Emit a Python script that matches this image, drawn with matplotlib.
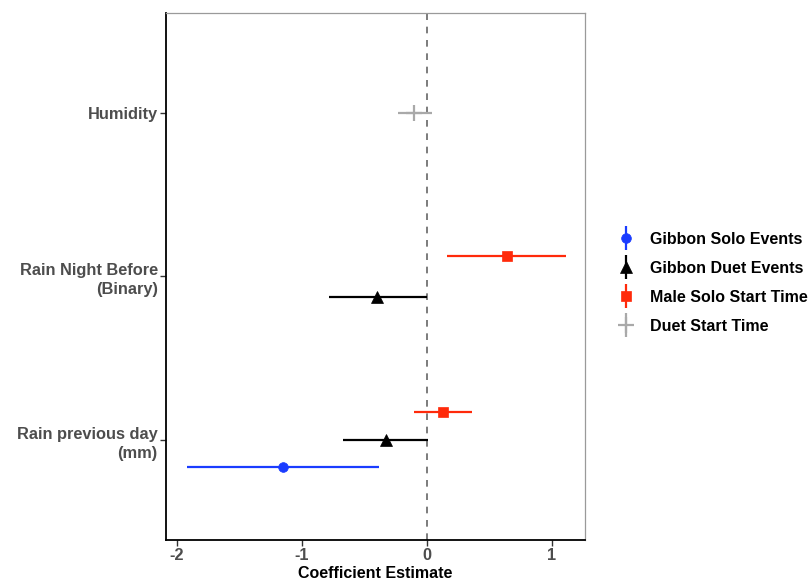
import matplotlib
matplotlib.use("Agg")
import matplotlib.pyplot as plt
from matplotlib.lines import Line2D
from matplotlib.legend_handler import HandlerTuple

plt.rcParams['font.family'] = ['Liberation Sans', 'DejaVu Sans']
plt.rcParams['font.weight'] = 'bold'

categories = ["Rain previous day\n(mm)", "Rain Night Before\n(Binary)", "Humidity"]
series = ["Gibbon Solo Events", "Gibbon Duet Events", "Male Solo Start Time", "Duet Start Time"]

# (category index, estimate, lower, upper)
solo_events = [(0, -1.15, -1.92, -0.38)]
duet_events = [(0, -0.33, -0.67, 0.01), (1, -0.40, -0.78, 0.0)]
male_solo_start = [(0, 0.13, -0.10, 0.36), (1, 0.64, 0.16, 1.11)]
duet_start = [(2, -0.10, -0.23, 0.04)]

colors = ["#1a3cff", "#000000", "#ff2a0a", "#a9a9a9"]
markers = ["o", "^", "s", "+"]
msizes = [7, 8, 7, 11]

data = [solo_events, duet_events, male_solo_start, duet_start]

# dodge offsets per category: group order bottom->top
dodge = {
    0: {0: -0.165, 1: 0.0, 2: 0.17},
    1: {1: -0.125, 2: 0.125},
    2: {3: 0.0},
}

fig = plt.figure(figsize=(8.11, 5.82), dpi=100)
ax = fig.add_axes([0.2047, 0.0722, 0.7213 - 0.2047, 0.9777 - 0.0722])

ax.axvline(0, color="#666666", linestyle=(0, (4, 4)), lw=1.2, zorder=1)

for gi, (series_data, c, m, ms) in enumerate(zip(data, colors, markers, msizes)):
    for cat, est, lo, hi in series_data:
        y = cat + dodge[cat][gi]
        ax.plot([lo, hi], [y, y], color=c, lw=1.6, solid_capstyle='butt', zorder=2)
        ax.plot([est], [y], marker=m, color=c, markersize=ms, markeredgewidth=1.6 if m == '+' else 0.5,
                linestyle='None', zorder=3)

ax.set_xlim(-2.088, 1.264)
ax.set_ylim(-0.61, 2.61)
ax.set_yticks([0, 1, 2])
ax.set_yticklabels(categories, fontsize=11.8, color="#4d4d4d", fontweight='bold', ha='right',
                   linespacing=1.35)
ax.set_xticks([-2, -1, 0, 1])
ax.set_xticklabels(["-2", "-1", "0", "1"], fontsize=11.8, color="#4d4d4d", fontweight='bold')
ax.set_xlabel("Coefficient Estimate", fontsize=11.5, fontweight='bold', color='black', labelpad=2)
ax.tick_params(axis='both', length=4, width=1, color='#333333', pad=2)

for s in ['left', 'bottom']:
    ax.spines[s].set_color('black')
    ax.spines[s].set_linewidth(1.3)
for s in ['top', 'right']:
    ax.spines[s].set_color('#9a9a9a')
    ax.spines[s].set_linewidth(0.9)

handles = []
for c, m, ms in zip(colors, markers, msizes):
    vline = Line2D([], [], marker='|', markersize=17, color=c, linestyle='None', markeredgewidth=1.6)
    pt = Line2D([], [], marker=m, markersize=ms, color=c, linestyle='None',
                markeredgewidth=1.6 if m == '+' else 0.5)
    handles.append((vline, pt))

leg = fig.legend(handles, series, handler_map={tuple: HandlerTuple(ndivide=1, pad=0)},
                 loc='center left', bbox_to_anchor=(0.744, 0.514), frameon=False,
                 prop={'weight': 'bold', 'size': 11.5}, handlelength=1.0, handletextpad=1.0,
                 labelspacing=0.87)

fig.savefig("out.png", dpi=100)
